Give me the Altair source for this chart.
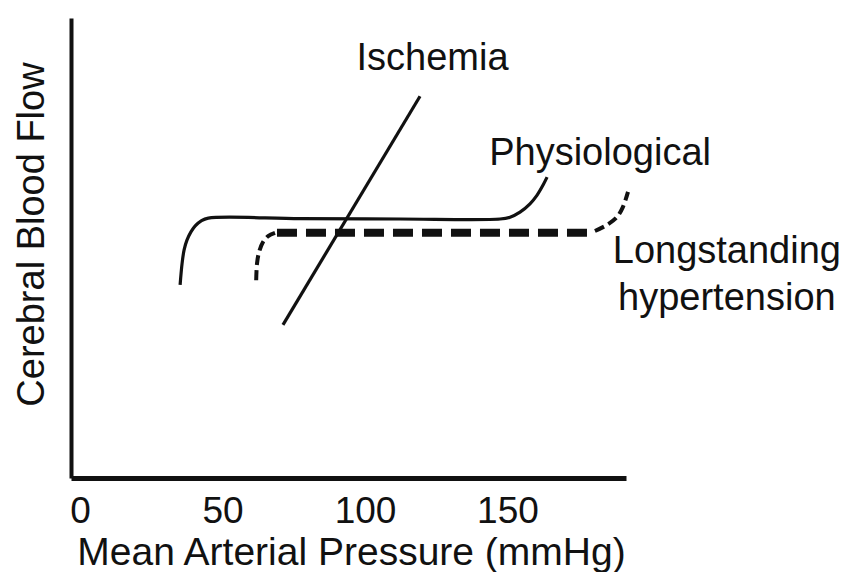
import altair as alt
import pandas as pd

# --- data ---
# Physiological autoregulation curve (solid)
phys_x = [35.1, 35.8, 36.5, 37.5, 38.9, 40.4, 42.5, 45.0, 77.2, 112.3, 147.4, 150.9, 154.4, 157.9, 160.4, 162.5, 163.9]
phys_y = [42.0, 46.7, 49.6, 51.7, 53.5, 54.8, 55.9, 56.5, 56.4, 56.3, 56.3, 56.7, 57.8, 59.6, 61.5, 63.7, 65.4]

# Longstanding hypertension curve (dashed): rise, plateau, tail
lh_rise_x = [61.8, 62.1, 62.8, 64.2, 66.0, 68.4]
lh_rise_y = [43.0, 46.7, 49.1, 51.3, 52.6, 53.3]
lh_plateau_x = [69.1, 178.2]
lh_plateau_y = [53.3, 53.3]
lh_tail_x = [180.7, 184.9, 188.4, 190.5, 192.3]
lh_tail_y = [53.7, 55.0, 56.7, 58.9, 62.2]

# Ischemia line
isch_x = [71.2, 119.3]
isch_y = [33.3, 83.0]

# Curve labels
label_text = ["Ischemia", "Physiological", "Longstanding", "hypertension"]
label_x = [123.7, 182.5, 227.0, 227.0]
label_y = [88.7, 68.0, 46.7, 36.5]

x_ticks = [0, 50, 100, 150]

FONT = "Liberation Sans"
INK = "#111111"


def frame(xs, ys):
    return pd.DataFrame({"x": xs, "y": ys, "i": list(range(len(xs)))})


xscale = alt.Scale(domain=[-3.2, 191.6], nice=False, zero=False)
yscale = alt.Scale(domain=[0, 100], nice=False, zero=False)

X = alt.X(
    "x:Q",
    scale=xscale,
    title="Mean Arterial Pressure (mmHg)",
    axis=alt.Axis(
        values=x_ticks,
        ticks=False,
        grid=False,
        domainColor=INK,
        domainWidth=5,
        labelFont=FONT,
        labelFontSize=37,
        labelColor=INK,
        labelPadding=15,
        labelFlush=False,
        labelOverlap=False,
        titleFont=FONT,
        titleFontSize=39,
        titleFontWeight="normal",
        titleColor=INK,
        titleBaseline="alphabetic",
        titleAlign="center",
        titleX=280,
        titleY=86,
    ),
)
Y = alt.Y(
    "y:Q",
    scale=yscale,
    title="Cerebral Blood Flow",
    axis=alt.Axis(
        labels=False,
        ticks=False,
        grid=False,
        domainColor=INK,
        domainWidth=4,
        titleFont=FONT,
        titleFontSize=38,
        titleFontWeight="normal",
        titleColor=INK,
        titleAngle=270,
        titleAlign="center",
        titleBaseline="alphabetic",
        titleX=-28,
        titleY=216,
    ),
)

phys = alt.Chart(frame(phys_x, phys_y)).mark_line(
    color=INK, strokeWidth=3.2, interpolate="catmull-rom"
).encode(x=X, y=Y, order="i:Q")

lh_rise = alt.Chart(frame(lh_rise_x, lh_rise_y)).mark_line(
    color=INK, strokeWidth=4, strokeDash=[10, 5], strokeCap="butt", interpolate="catmull-rom"
).encode(x="x:Q", y="y:Q", order="i:Q")

lh_plateau = alt.Chart(frame(lh_plateau_x, lh_plateau_y)).mark_line(
    color=INK, strokeWidth=8, strokeDash=[20, 9], strokeCap="butt"
).encode(x="x:Q", y="y:Q", order="i:Q")

lh_tail = alt.Chart(frame(lh_tail_x, lh_tail_y)).mark_line(
    color=INK, strokeWidth=4, strokeDash=[10, 5], strokeCap="butt", interpolate="catmull-rom"
).encode(x="x:Q", y="y:Q", order="i:Q")

isch = alt.Chart(frame(isch_x, isch_y)).mark_line(
    color=INK, strokeWidth=3.2
).encode(x="x:Q", y="y:Q", order="i:Q")

labels = alt.Chart(
    pd.DataFrame({"x": label_x, "y": label_y, "t": label_text})
).mark_text(
    font=FONT, fontSize=38, color=INK, align="center", baseline="alphabetic"
).encode(x="x:Q", y="y:Q", text="t:N")

chart = (
    alt.layer(phys, lh_rise, lh_plateau, lh_tail, isch, labels)
    .properties(
        width=555,
        height=460,
        autosize=alt.AutoSizeParams(type="none"),
        padding={"left": 63, "top": 10, "right": 221, "bottom": 94},
        background="white",
    )
    .configure_view(stroke=None)
)

chart.save("out.html", embed_options={"renderer": "svg", "actions": False})
